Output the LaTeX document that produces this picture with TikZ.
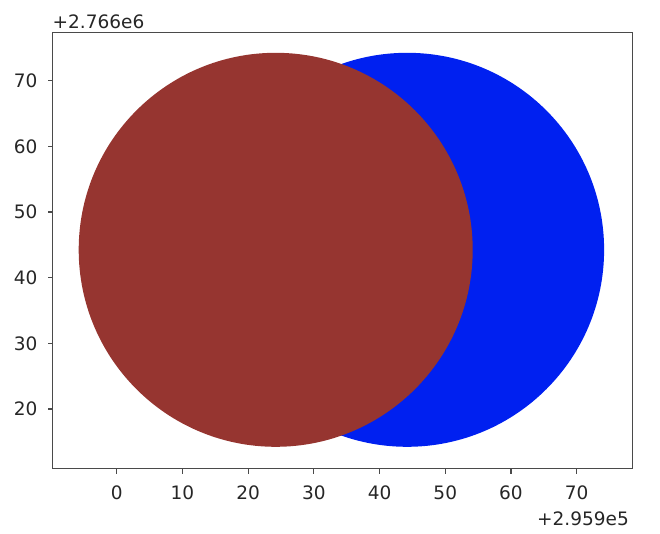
\documentclass[tikz,border=0pt]{standalone}
\usepackage{fontspec}
\setmainfont{DejaVu Sans}
\definecolor{redc}{HTML}{963530}
\definecolor{bluec}{HTML}{0020F0}
\definecolor{spine}{HTML}{4A4A4A}
\begin{document}
\begin{tikzpicture}[x=1pt,y=-1pt,
  lbl/.style={font=\fontsize{18.5}{22}\selectfont, text=black!85, inner sep=0pt},
  tick/.style={draw=spine, line width=1.1pt}]
\useasboundingbox (0,0) rectangle (660,534);
% circles
\fill[bluec] (407.1,249.8) circle[radius=197];
\fill[redc] (275.7,249.8) circle[radius=197];
% axes frame
\draw[spine, line width=1.3pt] (52.7,32.7) rectangle (632.7,468.7);
% x ticks
\foreach \v in {0,10,...,70}{
  \pgfmathsetmacro{\px}{116.7+6.571*\v}
  \draw[tick] (\px,468.7) -- (\px,473.5);
  \node[lbl, anchor=center] (xt\v) at (\px,493) {\v};
}
% y ticks
\foreach \v in {20,30,...,70}{
  \pgfmathsetmacro{\py}{409-6.566*(\v-20)}
  \draw[tick] (52.7,\py) -- (47.9,\py);
  \node[lbl, anchor=east] (yt\v) at (37.5,\py) {\v};
}
\node[lbl, anchor=west] (yoff) at (52.5,21.5) {+2.766e6};
\node[lbl, anchor=east] (xoff) at (629,518.5) {+2.959e5};
\end{tikzpicture}
\end{document}
